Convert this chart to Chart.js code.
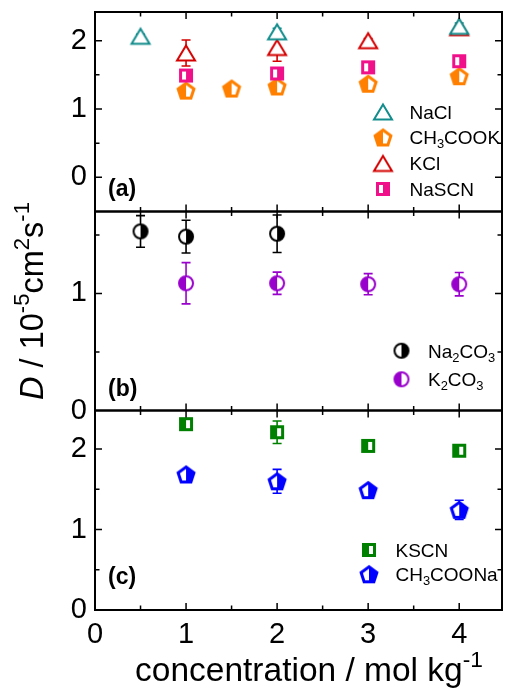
<!DOCTYPE html>
<html>
<head>
<meta charset="utf-8">
<script src="https://cdn.jsdelivr.net/npm/chart.js@4.4.0/dist/chart.umd.min.js"></script>
<style>
  html, body { margin: 0; padding: 0; background: #fff; }
  #wrap { position: relative; width: 511px; height: 692px; }
  #wrap canvas { position: absolute; left: 0; top: 0; }
</style>
</head>
<body>
<div id="wrap">
  <canvas id="pa" width="511" height="692"></canvas>
  <canvas id="pb" width="511" height="692"></canvas>
  <canvas id="pc" width="511" height="692"></canvas>
</div>
<script>
// ---- data (concentration in mol/kg, D in 1e-5 cm2/s) ----
// panel (a)
const xNaCl = [0.5, 2, 4];
const yNaCl = [2.065, 2.13, 2.21];
const eNaCl = [0.03, 0.05, 0.05];

const xCH3COOK = [1, 1.5, 2, 3, 4];
const yCH3COOK = [1.27, 1.30, 1.33, 1.37, 1.48];
const eCH3COOK = [0.03, 0.03, 0.03, 0.03, 0.03];

const xKCl = [1, 2, 3, 4];
const yKCl = [1.82, 1.90, 2.00, 2.19];
const eKCl = [0.19, 0.20, 0.03, 0.03];

const xNaSCN = [1, 2, 3, 4];
const yNaSCN = [1.49, 1.52, 1.61, 1.70];
const eNaSCN = [0.05, 0.05, 0.04, 0.05];

// panel (b)
const xNa2CO3 = [0.5, 1, 2];
const yNa2CO3 = [1.53, 1.485, 1.51];
const eNa2CO3 = [0.135, 0.14, 0.16];

const xK2CO3 = [1, 2, 3, 4];
const yK2CO3 = [1.087, 1.087, 1.079, 1.079];
const eK2CO3 = [0.176, 0.095, 0.09, 0.10];

// panel (c)
const xKSCN = [1, 2, 3, 4];
const yKSCN = [2.31, 2.21, 2.04, 1.98];
const eKSCN = [0.04, 0.14, 0.02, 0.05];

const xCH3COONa = [1, 2, 3, 4];
const yCH3COONa = [1.685, 1.60, 1.49, 1.245];
const eCH3COONa = [0.03, 0.148, 0.03, 0.12];

// tick labels
const xTicks = [0, 1, 2, 3, 4];
const yTicksA = [0, 1, 2];
const yTicksB = [0, 1];
const yTicksC = [0, 1, 2];

const FAM = '"Liberation Sans", Arial, sans-serif';
const TEAL = '#128c8c', RED = '#d40000', PINK = '#f0108a', ORANGE = '#ff8000';
const PURPLE = '#9900cc', GREEN = '#008000', BLUE = '#0000ff';

// marker images (open / half filled symbols)
function marker(shape, color, white) {
  const w = shape === 'sq' ? 18 : 24, h = shape === 'sq' ? 18 : 22;
  const c = document.createElement('canvas');
  c.width = w; c.height = h;
  const g = c.getContext('2d');
  const cx = w / 2, cy = h / 2;
  g.beginPath();
  if (shape === 'tri') {
    g.moveTo(cx, 3.5); g.lineTo(cx + 9, 18.5); g.lineTo(cx - 9, 18.5); g.closePath();
  } else if (shape === 'sq') {
    g.rect(cx - 5.5, cy - 5.5, 11, 11);
  } else if (shape === 'pent') {
    const R = 8.3;
    for (let k = 0; k < 5; k++) {
      const a = (-90 + 72 * k) * Math.PI / 180;
      const px = cx + R * Math.cos(a), py = cy + 0.8 + R * Math.sin(a);
      k ? g.lineTo(px, py) : g.moveTo(px, py);
    }
    g.closePath();
  } else {
    g.arc(cx, cy, 7, 0, Math.PI * 2);
  }
  g.fillStyle = '#fff';
  g.fill();
  if (white) {
    g.save();
    g.clip();
    g.fillStyle = color;
    g.fillRect(white === 'left' ? cx : 0, 0, cx, h);
    g.restore();
  }
  g.lineWidth = shape === 'tri' ? 2 : shape === 'circ' ? 2 : 3;
  g.strokeStyle = color;
  g.stroke();
  return c;
}

function pts(xs, ys) {
  return xs.map((x, i) => ({ x: x, y: ys[i] }));
}

function series(label, xs, ys, es, color, img, order) {
  return {
    label: label, data: pts(xs, ys), err: es, barColor: color,
    pointStyle: img, pointRadius: 8, showLine: false, clip: false, order: order || 0
  };
}

// text with subscripts / superscripts
function drawRich(ctx, parts, x, y, size, align) {
  const font = p => (p.i ? 'italic ' : '') + (p.b ? 'bold ' : '') +
    ((p.sub || p.sup) ? size * 0.68 : size) + 'px ' + FAM;
  let w = 0;
  parts.forEach(p => { ctx.font = font(p); p.w = ctx.measureText(p.t).width; w += p.w; });
  let cx = align === 'center' ? x - w / 2 : x;
  ctx.textAlign = 'left';
  ctx.textBaseline = 'alphabetic';
  ctx.fillStyle = '#000';
  parts.forEach(p => {
    ctx.font = font(p);
    const dy = p.sub ? size * 0.22 : p.sup ? -size * 0.42 : 0;
    ctx.fillText(p.t, cx, y + dy);
    cx += p.w;
  });
}

// digits in a formula become subscripts
function formula(str) {
  return str.split(/(\d+)/).filter(s => s).map(s => /^\d+$/.test(s) ? { t: s, sub: true } : { t: s });
}

const errorBars = {
  id: 'errorBars',
  beforeDatasetsDraw(chart) {
    const ctx = chart.ctx, ys = chart.scales.y;
    chart.data.datasets.forEach((ds, i) => {
      const meta = chart.getDatasetMeta(i);
      ctx.save();
      ctx.strokeStyle = ds.barColor;
      ctx.lineWidth = 1.6;
      meta.data.forEach((pt, j) => {
        const v = ds.data[j].y, e = ds.err[j];
        const t = ys.getPixelForValue(v + e), b = ys.getPixelForValue(v - e);
        ctx.beginPath();
        ctx.moveTo(pt.x, t); ctx.lineTo(pt.x, b);
        ctx.moveTo(pt.x - 4.5, t); ctx.lineTo(pt.x + 4.5, t);
        ctx.moveTo(pt.x - 4.5, b); ctx.lineTo(pt.x + 4.5, b);
        ctx.stroke();
      });
      ctx.restore();
    });
  }
};

// frame with inward ticks, panel tag and legend
function decor(tag, tagY, yMajor, legend) {
  return {
    id: 'decor',
    afterDraw(chart) {
      const ctx = chart.ctx, a = chart.chartArea, xs = chart.scales.x, ys = chart.scales.y;
      ctx.save();
      ctx.strokeStyle = '#000';
      ctx.lineWidth = 2;
      ctx.strokeRect(a.left, a.top, a.right - a.left, a.bottom - a.top);
      ctx.lineWidth = 1.5;
      ctx.beginPath();
      const xt = (v, len) => {
        const p = xs.getPixelForValue(v);
        ctx.moveTo(p, a.top); ctx.lineTo(p, a.top + len);
        ctx.moveTo(p, a.bottom); ctx.lineTo(p, a.bottom - len);
      };
      const yt = (v, len) => {
        const p = ys.getPixelForValue(v);
        ctx.moveTo(a.left, p); ctx.lineTo(a.left + len, p);
        ctx.moveTo(a.right, p); ctx.lineTo(a.right - len, p);
      };
      xTicks.forEach(v => {
        if (v > xs.min) xt(v, 7);
        if (v + 0.5 < xs.max) xt(v + 0.5, 4.5);
      });
      yMajor.forEach(v => {
        if (v > ys.min && v < ys.max) yt(v, 7);
        if (v + 0.5 < ys.max) yt(v + 0.5, 4.5);
      });
      ctx.stroke();

      drawRich(ctx, [{ t: tag, b: true }], 108, tagY, 23, 'left');

      legend.items.forEach((it, k) => {
        const ds = chart.data.datasets[it];
        const y = legend.y[k];
        const img = ds.pointStyle;
        ctx.drawImage(img, legend.mx - img.width / 2, y - img.height / 2);
        drawRich(ctx, formula(ds.label), legend.tx, y + 6.8, 19, 'left');
      });
      ctx.restore();
    }
  };
}

const titles = {
  id: 'titles',
  afterDraw(chart) {
    const ctx = chart.ctx;
    ctx.save();
    drawRich(ctx, [{ t: 'concentration / mol kg' }, { t: '-1', sup: true }], 309, 681, 33.5, 'center');
    ctx.translate(43, 301);
    ctx.rotate(-Math.PI / 2);
    drawRich(ctx, [{ t: 'D', i: true }, { t: ' / 10' }, { t: '-5', sup: true }, { t: 'cm' },
      { t: '2', sup: true }, { t: 's' }, { t: '-1', sup: true }], 0, 0, 32.5, 'center');
    ctx.restore();
  }
};

function xAxis(show) {
  return {
    type: 'linear', min: 0, max: 4.47, display: show,
    grid: { display: false, drawTicks: false },
    border: { display: false },
    ticks: { font: { family: FAM, size: 29 }, color: '#000', padding: 8 },
    afterBuildTicks: s => { s.ticks = xTicks.map(v => ({ value: v })); },
    afterFit: s => {
      if (!show) return;
      s.height = 82; s.paddingLeft = 0; s.paddingRight = 0;
    }
  };
}

function yAxis(min, max, ticks) {
  return {
    min: min, max: max,
    grid: { display: false, drawTicks: false },
    border: { display: false },
    ticks: { font: { family: FAM, size: 29 }, color: '#000', padding: 8 },
    afterBuildTicks: s => { s.ticks = ticks.map(v => ({ value: v })); },
    afterFit: s => { s.width = 95; s.paddingTop = 0; s.paddingBottom = 0; }
  };
}

function panel(id, top, bottom, showX, y, datasets, plugins) {
  return new Chart(document.getElementById(id), {
    type: 'scatter',
    data: { datasets: datasets },
    options: {
      responsive: false, animation: false, events: [],
      layout: { padding: { top: top, bottom: bottom, left: 0, right: 2 } },
      plugins: { legend: { display: false }, tooltip: { enabled: false } },
      scales: { x: xAxis(showX), y: y }
    },
    plugins: [errorBars].concat(plugins)
  });
}

panel('pa', 12, 692 - 211.5, false, yAxis(-0.5, 2.42, yTicksA), [
  series('NaCl', xNaCl, yNaCl, eNaCl, TEAL, marker('tri', TEAL, null), 0),
  series('CH3COOK', xCH3COOK, yCH3COOK, eCH3COOK, ORANGE, marker('pent', ORANGE, 'right'), 3),
  series('KCl', xKCl, yKCl, eKCl, RED, marker('tri', RED, null), 2),
  series('NaSCN', xNaSCN, yNaSCN, eNaSCN, PINK, marker('sq', PINK, 'left'), 1)
], [decor('(a)', 196, yTicksA, { items: [0, 1, 2, 3], mx: 383, tx: 409.5, y: [112, 137.5, 163.5, 189] })]);

panel('pb', 211.5, 692 - 410.5, false, yAxis(0, 1.7, yTicksB), [
  series('Na2CO3', xNa2CO3, yNa2CO3, eNa2CO3, '#000', marker('circ', '#000', 'left')),
  series('K2CO3', xK2CO3, yK2CO3, eK2CO3, PURPLE, marker('circ', PURPLE, 'right'))
], [decor('(b)', 396, yTicksB, { items: [0, 1], mx: 401.5, tx: 428, y: [350.7, 379.3] })]);

panel('pc', 410.5, 0, true, yAxis(0, 2.48, yTicksC), [
  series('KSCN', xKSCN, yKSCN, eKSCN, GREEN, marker('sq', GREEN, 'right')),
  series('CH3COONa', xCH3COONa, yCH3COONa, eCH3COONa, BLUE, marker('pent', BLUE, 'left'))
], [decor('(c)', 584, yTicksC, { items: [0, 1], mx: 369, tx: 395.5, y: [550, 574.3] }), titles]);
</script>
</body>
</html>
